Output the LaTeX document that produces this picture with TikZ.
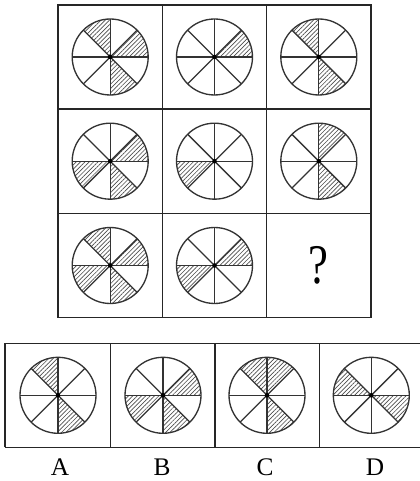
\documentclass[tikz,border=0pt]{standalone}
\usepackage{fontspec}
\setmainfont{Liberation Serif}
\usetikzlibrary{patterns.meta}
\tikzset{
  frame/.style={draw=black!85, line width=1.1pt},
  hatch/.style={pattern={Lines[angle=45,distance=2.3pt,line width=0.5pt]}, pattern color=black!70},
  spoke/.style={draw=black!80, line width=1pt},
  lbl/.style={font=\fontsize{19}{19}\selectfont, inner sep=0pt},
}
\newcommand\wheelat[3]{%
  \begin{scope}[shift={(#1,#2)}]
    \foreach \s in {#3} {
      \fill[hatch] (0,0) -- (\s*45:28.5pt) arc[start angle=\s*45, delta angle=45, radius=28.5pt] -- cycle;
    }
    \draw[spoke] (0,0) circle[radius=28.5pt];
    \foreach \a in {0,45,...,315} { \draw[spoke] (0,0) -- (\a:28.5pt); }
    \fill[black] (0,0) circle[radius=1.7pt];
  \end{scope}}
\begin{document}
\begin{tikzpicture}[x=0.75pt,y=0.75pt]
  \useasboundingbox (0,0) rectangle (420,481);
  % grid
  \draw[frame] (58,163.3) rectangle (371,476);
  \draw[frame] (162.3,163.3) -- (162.3,476);
  \draw[frame] (266.7,163.3) -- (266.7,476);
  \draw[frame] (58,372) -- (371,372);
  \draw[frame] (58,267.7) -- (371,267.7);
  % row 1
  \wheelat{110.2}{424}{2,0,6}
  \wheelat{214.5}{424}{0}
  \wheelat{318.8}{424}{2,6}
  % row 2
  \wheelat{110.2}{319.8}{0,4,6}
  \wheelat{214.5}{319.8}{4}
  \wheelat{318.8}{319.8}{1,6}
  % row 3
  \wheelat{110.2}{215.5}{2,0,4,6}
  \wheelat{214.5}{215.5}{0,4}
  \node[inner sep=0pt, font=\fontsize{42}{42}\selectfont, xscale=0.8] (q) at (318.5,215.5) {?};
  % options
  \draw[frame] (5,33.7) -- (423.6,33.7);
  \draw[frame] (5,137.7) -- (423.6,137.7);
  \draw[frame] (5,33.7) -- (5,137.7);
  \draw[frame] (110.7,33.7) -- (110.7,137.7);
  \draw[frame] (215,33.7) -- (215,137.7);
  \draw[frame] (319.3,33.7) -- (319.3,137.7);
  \wheelat{58}{85.7}{2,6}
  \wheelat{163}{85.7}{0,4,6}
  \wheelat{267}{85.7}{2,1,6}
  \wheelat{371.3}{85.7}{3,7}
  \node[lbl] (la) at (60,14) {A};
  \node[lbl] (lb) at (162,14) {B};
  \node[lbl] (lc) at (265,14) {C};
  \node[lbl] (ld) at (375,14) {D};
\end{tikzpicture}
\end{document}
